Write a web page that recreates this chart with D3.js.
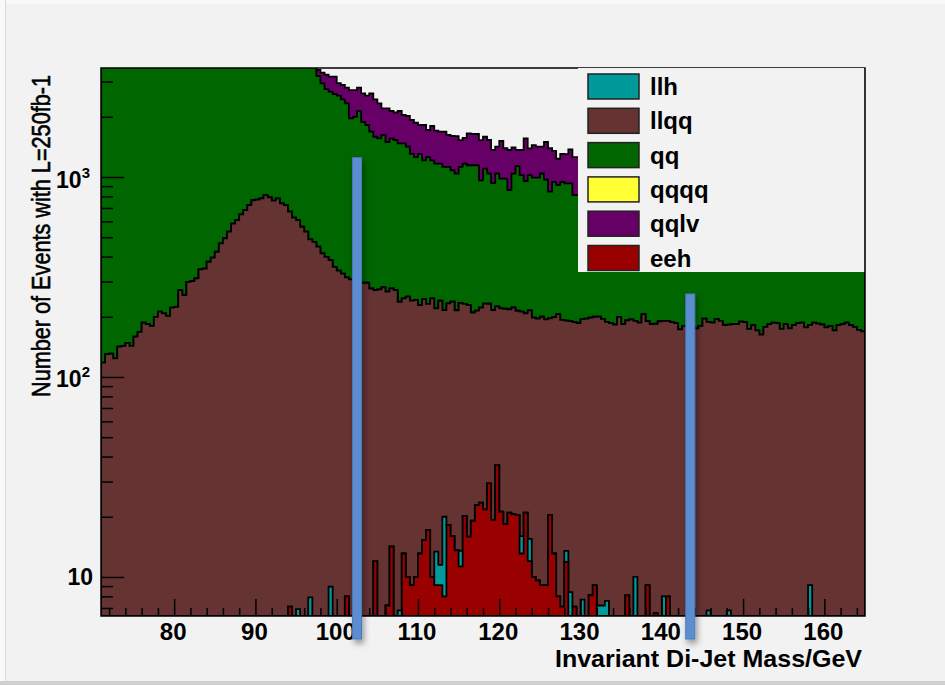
<!DOCTYPE html>
<html>
<head>
<meta charset="utf-8">
<script src="https://cdn.jsdelivr.net/npm/d3@7"></script>
<style>
  html, body { margin: 0; padding: 0; background: #f2f2f2; }
  svg { display: block; }
</style>
</head>
<body>
<svg id="chart" width="945" height="685"></svg>
<script>
// Di-jet invariant mass, stacked by process, 0.5 GeV bins from 71 to 165 GeV.
const massMin = 71;
const massMax = 165;
const binWidth = 0.5;

// eeh signal (bins of 0.5 GeV starting at 71 GeV, 10 per row)
const eeh = [
  0, 0, 0, 0, 0, 0, 0, 0, 0, 0,
  0, 0, 0, 0, 0, 0, 0, 0, 0, 0,
  0, 0, 0, 0, 0, 0, 0, 0, 0, 0,
  0, 0, 0, 0, 0, 0, 0, 0, 0, 0,
  0, 0, 0, 0, 0, 0, 7.1, 0, 0, 0,
  0, 0, 0, 0, 0, 0, 0, 0, 0, 0,
  8.0, 0, 0, 0, 0, 0, 0, 12.0, 0, 0,
  7.2, 14.2, 0, 0, 13.1, 10.0, 9.1, 10.0, 13.1, 15.3,
  17.2, 10.0, 9.1, 9.1, 8.0, 18.2, 16.0, 13.6, 11.3, 20.2,
  15.9, 19.1, 22.9, 23.5, 21.8, 29.4, 19.3, 36.3, 21.2, 18.4,
  21.0, 20.6, 20.4, 13.1, 21.0, 12.0, 10.0, 9.6, 9.1, 9.1,
  20.4, 13.1, 8.0, 7.1, 11.9, 0, 7.1, 0, 0, 0,
  8.1, 9.1, 0, 0, 0, 0, 0, 0, 0, 8.1,
  0, 0, 0, 0, 9.1, 0, 6.6, 0, 0, 8.0,
  0, 0, 0, 0, 0, 0, 0, 0, 0, 0,
  0, 0, 0, 0, 0, 0, 0, 0, 0, 0,
  0, 0, 0, 0, 0, 0, 0, 0, 0, 0,
  0, 0, 0, 0, 0, 0, 0, 0, 0, 0,
  0, 0, 0, 0, 0, 0, 0, 0
];

// llh
const llh = [
  0, 0, 0, 0, 0, 0, 0, 0, 0, 0,
  0, 0, 0, 0, 0, 0, 0, 0, 0, 0,
  0, 0, 0, 0, 0, 0, 0, 0, 0, 0,
  0, 0, 0, 0, 0, 0, 0, 0, 0, 0,
  0, 0, 0, 0, 0, 0, 0, 0, 6.9, 0,
  0, 7.9, 0, 0, 0, 0, 8.95, 0, 0, 0,
  0, 0, 0, 0, 0, 0, 0, 0, 0, 0,
  0, 0, 0, 6.8, 0, 0, 0, 0, 0, 0,
  0, 0, 4.3, 2.4, 12.0, 0, 0, 0, 2.2, 0,
  0, 0, 0, 0, 0, 0, 0, 0, 0, 0,
  0, 0, 0, 2.9, 0, 3.5, 0, 0, 0, 0,
  0, 0, 0, 0, 1.6, 8.4, 0, 0, 7.7, 0,
  0, 0, 7.2, 7.2, 7.6, 0, 0, 0, 0, 0,
  0, 10.0, 0, 0, 0, 0, 0, 0, 8.0, 0,
  0, 0, 0, 0, 0, 0, 0, 0, 0, 6.8,
  0, 0, 0, 0, 6.8, 0, 0, 0, 0, 0,
  0, 0, 0, 0, 0, 0, 0, 0, 0, 0,
  0, 0, 0, 0, 9.1, 0, 0, 0, 0, 0,
  0, 0, 0, 0, 0, 0, 0, 0
];

// llqq background (Z peak)
const llqq = [
  118, 130, 131, 124, 142, 143, 148, 143, 159, 168,
  187, 184, 180, 200, 212, 208, 202, 222, 224, 272,
  257, 299, 302, 311, 345, 348, 377, 395, 423, 466,
  494, 533, 585, 609, 651, 684, 724, 765, 770, 782,
  811, 792, 761, 782, 738, 724, 664, 626, 602, 564,
  533, 480, 474, 449, 415, 399, 375, 355, 340, 329,
  307, 308, 299, 298, 296, 296, 277, 260, 274, 281,
  260, 263, 272, 231, 234, 242, 232, 233, 216, 230,
  215, 237, 207, 229, 196, 215, 222, 202, 221, 212,
  213, 191, 192, 199, 211, 203, 197, 189, 199, 201,
  197, 202, 194, 196, 187, 200, 188, 186, 191, 185,
  176, 186, 198, 186, 178, 182, 181, 186, 187, 196,
  190, 191, 193, 188, 181, 186, 183, 200, 184, 184,
  194, 181, 187, 206, 181, 184, 178, 190, 183, 183,
  188, 186, 173, 180, 178, 177, 175, 180, 196, 182,
  187, 195, 191, 182, 176, 184, 184, 189, 188, 174,
  182, 171, 163, 178, 184, 187, 186, 174, 184, 175,
  182, 186, 187, 177, 173, 187, 185, 183, 177, 180,
  171, 182, 184, 187, 182, 178, 172, 169
];

// qqqq (no entries in this mass window)
const qqqq = [
  0, 0, 0, 0, 0, 0, 0, 0, 0, 0,
  0, 0, 0, 0, 0, 0, 0, 0, 0, 0,
  0, 0, 0, 0, 0, 0, 0, 0, 0, 0,
  0, 0, 0, 0, 0, 0, 0, 0, 0, 0,
  0, 0, 0, 0, 0, 0, 0, 0, 0, 0,
  0, 0, 0, 0, 0, 0, 0, 0, 0, 0,
  0, 0, 0, 0, 0, 0, 0, 0, 0, 0,
  0, 0, 0, 0, 0, 0, 0, 0, 0, 0,
  0, 0, 0, 0, 0, 0, 0, 0, 0, 0,
  0, 0, 0, 0, 0, 0, 0, 0, 0, 0,
  0, 0, 0, 0, 0, 0, 0, 0, 0, 0,
  0, 0, 0, 0, 0, 0, 0, 0, 0, 0,
  0, 0, 0, 0, 0, 0, 0, 0, 0, 0,
  0, 0, 0, 0, 0, 0, 0, 0, 0, 0,
  0, 0, 0, 0, 0, 0, 0, 0, 0, 0,
  0, 0, 0, 0, 0, 0, 0, 0, 0, 0,
  0, 0, 0, 0, 0, 0, 0, 0, 0, 0,
  0, 0, 0, 0, 0, 0, 0, 0, 0, 0,
  0, 0, 0, 0, 0, 0, 0, 0
];

// qq
const qq = [
  9400, 9210, 9050, 8900, 8800, 8620, 8500, 8330, 8210, 8050,
  7900, 7780, 7640, 7500, 7380, 7220, 7100, 6960, 6850, 6700,
  6580, 6440, 6330, 6200, 6080, 5950, 5820, 5700, 5580, 5440,
  5330, 5200, 5080, 4960, 4850, 4720, 4610, 4500, 4390, 4280,
  4180, 4070, 3980, 3880, 3800, 3720, 3650, 3580, 3520, 3470,
  3420, 3380, 3350, 2751, 2525, 2351, 2288, 2245, 2213, 2116,
  2018, 1657, 1701, 1840, 1592, 1524, 1409, 1318, 1286, 1341,
  1229, 1283, 1259, 1234, 1225, 1166, 1065, 1015, 1077, 966,
  1026, 964, 947, 926, 908, 891, 843, 825, 889, 935,
  916, 935, 930, 740, 869, 809, 717, 816, 762, 763,
  643, 818, 918, 811, 747, 807, 795, 797, 841, 777,
  649, 747, 706, 753, 738, 739, 623, 625, 640, 605,
  590, 615, 600, 580, 595, 570, 585, 560, 575, 555,
  565, 540, 560, 545, 530, 550, 525, 540, 520, 535,
  515, 525, 510, 520, 500, 515, 495, 505, 490, 500,
  485, 495, 480, 490, 475, 485, 470, 480, 465, 475,
  460, 470, 455, 465, 450, 460, 445, 455, 440, 450,
  440, 445, 435, 440, 430, 438, 425, 432, 420, 428,
  418, 425, 415, 420, 410, 418, 408, 412
];

// qqlv
const qqlv = [
  520, 505, 530, 490, 515, 500, 480, 510, 495, 470,
  505, 485, 460, 490, 470, 455, 480, 465, 450, 470,
  445, 460, 440, 455, 430, 450, 425, 440, 420, 435,
  415, 430, 405, 420, 400, 415, 395, 410, 390, 405,
  385, 400, 380, 395, 375, 390, 370, 385, 365, 380,
  360, 375, 355, 228, 384, 500, 503, 575, 397, 439,
  467, 751, 716, 662, 731, 733, 933, 855, 773, 582,
  708, 578, 570, 666, 570, 600, 622, 610, 514, 609,
  460, 588, 539, 519, 562, 498, 522, 562, 407, 403,
  508, 496, 496, 568, 488, 490, 432, 377, 532, 410,
  504, 364, 233, 342, 605, 369, 452, 425, 377, 525,
  547, 405, 322, 360, 371, 444, 447, 447, 430, 415,
  440, 425, 410, 435, 420, 400, 430, 415, 395, 420,
  405, 390, 415, 400, 385, 410, 395, 380, 400, 385,
  375, 395, 380, 365, 385, 370, 360, 380, 365, 355,
  375, 360, 350, 370, 355, 345, 365, 350, 340, 360,
  345, 335, 355, 340, 330, 350, 335, 325, 345, 330,
  320, 340, 325, 315, 335, 320, 310, 330, 315, 305,
  325, 310, 300, 320, 305, 295, 315, 300
];

// Stacking order, bottom to top, and legend order
const stackKeys = ["eeh", "llh", "llqq", "qqqq", "qq", "qqlv"];
const legendKeys = ["llh", "llqq", "qq", "qqqq", "qqlv", "eeh"];

// Axis ticks and labels
const xMajorTicks = [80, 90, 100, 110, 120, 130, 140, 150, 160];
const xMinorTicks = [72, 74, 76, 78, 82, 84, 86, 88, 92, 94, 96, 98, 102, 104, 106, 108,
  112, 114, 116, 118, 122, 124, 126, 128, 132, 134, 136, 138, 142, 144, 146, 148,
  152, 154, 156, 158, 162, 164];
const yMajorTicks = [10, 100, 1000];
const yMinorTicks = [7, 8, 9, 20, 30, 40, 50, 60, 70, 80, 90,
  200, 300, 400, 500, 600, 700, 800, 900, 2000, 3000];
const yRange = [6.38, 3508];
const xTitle = "Invariant Di-Jet Mass/GeV";
const yTitle = "Number of Events with L=250fb-1";

// Mass window cut markers: position and upper end (events)
const cutMass = [102.5, 143.5];
const cutTop = [1250, 260];

const series = { eeh, llh, llqq, qqqq, qq, qqlv };
const colors = {
  llh: "#009a9a", llqq: "#663333", qq: "#006600",
  qqqq: "#ffff33", qqlv: "#660066", eeh: "#990000"
};

const nBins = llqq.length;
stackKeys.forEach(k => {
  if (series[k].length !== nBins) throw new Error("bin count mismatch in " + k);
});
const edges = d3.range(nBins + 1).map(i => massMin + i * binWidth);

const font = "'Liberation Sans', Arial, Helvetica, sans-serif";
const plot = { left: 101, right: 865, top: 68, bottom: 616 };

const svg = d3.select("#chart");

// canvas
svg.append("rect").attr("width", 945).attr("height", 685).attr("fill", "#f2f2f2");
svg.append("rect").attr("x", 0).attr("y", 0).attr("width", 945).attr("height", 4).attr("fill", "#f8f8f8");
svg.append("rect").attr("x", 0).attr("y", 0).attr("width", 5).attr("height", 685).attr("fill", "#f9f9f9");
svg.append("line").attr("x1", 5.5).attr("x2", 5.5).attr("y1", 0).attr("y2", 685)
  .attr("stroke", "#dadada").attr("stroke-width", 1);
svg.append("rect").attr("x", 0).attr("y", 681).attr("width", 945).attr("height", 4).attr("fill", "#d0d0d0");

const x = d3.scaleLinear().domain([massMin, massMax]).range([plot.left, plot.right]);
const y = d3.scaleLog().domain(yRange).range([plot.bottom, plot.top]);

const defs = svg.append("defs");
defs.append("clipPath").attr("id", "plot-clip")
  .append("rect")
  .attr("x", plot.left).attr("y", plot.top)
  .attr("width", plot.right - plot.left).attr("height", plot.bottom - plot.top);

const shadow = defs.append("filter").attr("id", "bar-shadow")
  .attr("x", "-200%").attr("y", "-10%").attr("width", "500%").attr("height", "130%");
shadow.append("feDropShadow").attr("dx", 2).attr("dy", 4).attr("stdDeviation", 3)
  .attr("flood-color", "#000").attr("flood-opacity", 0.4);

// stacked layers
const rows = d3.range(nBins).map(i => {
  const r = {};
  stackKeys.forEach(k => { r[k] = series[k][i]; });
  return r;
});
const stacked = d3.stack().keys(stackKeys)(rows);

function stepPath(tops) {
  const yb = plot.bottom;
  const yAt = v => (v > yRange[0] ? Math.max(y(v), plot.top - 20) : yb);
  let d = "M" + x(edges[0]) + "," + yb;
  tops.forEach((v, i) => {
    const yy = yAt(v);
    d += "L" + x(edges[i]) + "," + yy + "L" + x(edges[i + 1]) + "," + yy;
  });
  d += "L" + x(edges[nBins]) + "," + yb + "Z";
  return d;
}

const layers = svg.append("g").attr("clip-path", "url(#plot-clip)");
layers.selectAll("path")
  .data(stacked.slice().reverse())
  .join("path")
  .attr("d", s => stepPath(s.map(p => p[1])))
  .attr("fill", s => colors[s.key])
  .attr("stroke", "#000")
  .attr("stroke-width", 1.8)
  .attr("stroke-linejoin", "miter");

// frame
svg.append("rect")
  .attr("x", plot.left).attr("y", plot.top)
  .attr("width", plot.right - plot.left).attr("height", plot.bottom - plot.top)
  .attr("fill", "none").attr("stroke", "#000").attr("stroke-width", 1.5);

// x axis
const xMajor = svg.append("g").attr("transform", `translate(0,${plot.bottom})`)
  .call(d3.axisBottom(x).tickValues(xMajorTicks).tickSizeInner(-17).tickSizeOuter(0).tickPadding(8));
const xMinor = svg.append("g").attr("transform", `translate(0,${plot.bottom})`)
  .call(d3.axisBottom(x).tickValues(xMinorTicks).tickSizeInner(-8).tickSizeOuter(0).tickFormat(""));
[xMajor, xMinor].forEach(g => {
  g.select(".domain").remove();
  g.selectAll(".tick line").attr("stroke", "#000").attr("stroke-width", 1.5);
});
xMajor.selectAll(".tick text")
  .attr("font-family", font).attr("font-size", 24).attr("font-weight", "bold")
  .attr("fill", "#000").attr("x", -1.5).attr("y", 24).attr("dy", null);

// y axis
const yMajor = svg.append("g").attr("transform", `translate(${plot.left},0)`)
  .call(d3.axisLeft(y).tickValues(yMajorTicks).tickSizeInner(-23).tickSizeOuter(0));
const yMinor = svg.append("g").attr("transform", `translate(${plot.left},0)`)
  .call(d3.axisLeft(y).tickValues(yMinorTicks).tickSizeInner(-12).tickSizeOuter(0).tickFormat(""));
[yMajor, yMinor].forEach(g => {
  g.select(".domain").remove();
  g.selectAll(".tick line").attr("stroke", "#000").attr("stroke-width", 1.5);
});
yMajor.selectAll(".tick text").each(function (v) {
  const t = d3.select(this);
  const exp = Math.round(Math.log10(v));
  t.text(null)
    .attr("font-family", font).attr("font-weight", "bold").attr("fill", "#000")
    .attr("text-anchor", "end").attr("dy", null);
  if (exp === 1) {
    t.attr("x", -8).attr("y", 8).attr("font-size", 23);
    t.append("tspan").text("10");
  } else {
    t.attr("x", -11).attr("y", 10).attr("font-size", 23);
    t.append("tspan").text("10");
    t.append("tspan").attr("font-size", 15).attr("dy", -10).text(String(exp));
  }
});

// axis titles
svg.append("text")
  .attr("x", 862).attr("y", 667)
  .attr("text-anchor", "end")
  .attr("font-family", font).attr("font-size", 24).attr("font-weight", "bold")
  .attr("textLength", 307).attr("lengthAdjust", "spacingAndGlyphs")
  .attr("fill", "#000")
  .text(xTitle);

svg.append("text")
  .attr("transform", "translate(50,75) rotate(-90)")
  .attr("text-anchor", "end")
  .attr("font-family", font).attr("font-size", 26)
  .attr("textLength", 322).attr("lengthAdjust", "spacingAndGlyphs")
  .attr("fill", "#000").attr("stroke", "#000").attr("stroke-width", 0.6)
  .text(yTitle);

// legend
const legend = svg.append("g");
legend.append("rect")
  .attr("x", 578).attr("y", plot.top)
  .attr("width", plot.right - 578).attr("height", 204)
  .attr("fill", "#f2f2f2");
legend.append("line")
  .attr("x1", plot.right).attr("x2", plot.right)
  .attr("y1", plot.top).attr("y2", plot.top + 204)
  .attr("stroke", "#333").attr("stroke-width", 2);
const entries = legend.selectAll("g.entry")
  .data(legendKeys)
  .join("g")
  .attr("class", "entry")
  .attr("transform", (d, i) => `translate(0,${86.5 + i * 34.3})`);
entries.append("rect")
  .attr("x", 588).attr("y", -12.5).attr("width", 51).attr("height", 25)
  .attr("fill", d => colors[d]).attr("stroke", "#222").attr("stroke-width", 1.5);
entries.append("text")
  .attr("x", 650).attr("y", 8.5)
  .attr("font-family", font).attr("font-size", 24).attr("font-weight", "bold")
  .attr("fill", "#000")
  .text(d => d);

// mass window markers
svg.append("g").selectAll("rect")
  .data(cutMass)
  .join("rect")
  .attr("x", d => x(d) - 4.5)
  .attr("y", (d, i) => y(cutTop[i]))
  .attr("width", 9)
  .attr("height", (d, i) => plot.bottom + 23 - y(cutTop[i]))
  .attr("fill", "#5c8dd0")
  .attr("stroke", "#4a7aba")
  .attr("stroke-width", 1)
  .attr("filter", "url(#bar-shadow)");
</script>
</body>
</html>
